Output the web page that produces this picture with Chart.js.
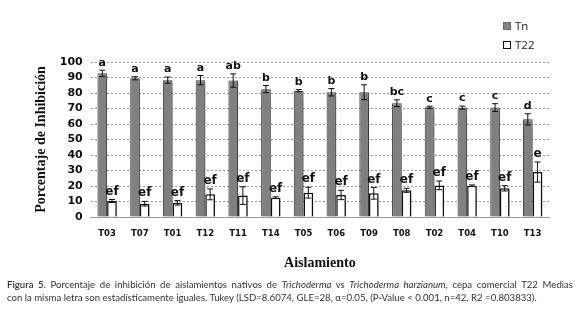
<!DOCTYPE html>
<html>
<head>
<meta charset="utf-8">
<script src="https://cdn.jsdelivr.net/npm/chart.js@4/dist/chart.umd.min.js"></script>
<style>
  body { margin: 0; background: #fff; }
  #wrap { position: relative; width: 579px; height: 319px; overflow: hidden; }
  #chart { position: absolute; left: 0; top: 0; }
  .legend { position: absolute; left: 503px; font-family: "Open Sans", sans-serif; font-size: 11.5px; line-height: 14px; color: #222; }
  .legend span.box { display: inline-block; width: 8px; height: 8px; margin-right: 4px; vertical-align: 0px; box-sizing: border-box; }
  #caption { position: absolute; left: 7px; top: 278px; width: 566px; font-family: Lato, sans-serif; font-size: 9.6px; line-height: 13px; color: #333; }
  #caption .l1 { text-align: justify; text-align-last: justify; white-space: nowrap; }
</style>
</head>
<body>
<div id="wrap">
  <canvas id="chart" width="579" height="319"></canvas>
  <div class="legend" style="top:19px"><span class="box" style="background:#808080;border:1px solid #6a6a6a"></span>Tn</div>
  <div class="legend" style="top:38px"><span class="box" style="background:#fff;border:1.5px solid #111"></span>T22</div>
  <div id="caption">
    <div class="l1"><b style="font-weight:600">Figura 5.</b> Porcentaje de inhibición de aislamientos nativos de <i>Trichoderma</i> vs <i>Trichoderma harzianum</i>, cepa comercial T22 Medias</div>
    <div>con la misma letra son estadísticamente iguales. Tukey (LSD=8.6074, GLE=28, α=0.05, (P-Value &lt; 0.001, n=42, R2 =0.803833).</div>
  </div>
</div>
<script>
const isolates = ['T03', 'T07', 'T01', 'T12', 'T11', 'T14', 'T05', 'T06', 'T09', 'T08', 'T02', 'T04', 'T10', 'T13'];

const tnValues = [92.7, 89.5, 88.3, 88.3, 88.0, 82.5, 81.5, 80.5, 80.5, 73.4, 70.8, 70.6, 70.6, 63.0];
const tnErrors = [2.0, 1.0, 2.0, 3.0, 4.3, 2.3, 0.7, 2.4, 4.8, 2.2, 0.7, 1.0, 2.5, 3.6];
const tnLetters = ['a', 'a', 'a', 'a', 'ab', 'b', 'b', 'b', 'b', 'bc', 'c', 'c', 'c', 'd'];

const t22Values = [10.3, 8.6, 9.2, 14.6, 13.8, 12.5, 15.7, 14.2, 15.3, 17.2, 20.4, 20.2, 18.5, 29.0];
const t22Errors = [1.0, 1.5, 1.5, 3.5, 5.7, 0.5, 3.5, 3.0, 3.8, 1.3, 2.8, 0.5, 1.7, 6.5];
const t22Letters = ['ef', 'ef', 'ef', 'ef', 'ef', 'ef', 'ef', 'ef', 'ef', 'ef', 'ef', 'ef', 'ef', 'e'];

const yTicks = [0, 10, 20, 30, 40, 50, 60, 70, 80, 90, 100];

// soft drop shadow under the bars
const barShadow = {
    id: 'barShadow',
    beforeDatasetDraw(chart) {
        const ctx = chart.ctx;
        ctx.save();
        ctx.shadowColor = 'rgba(0,0,0,0.45)';
        ctx.shadowBlur = 8;
        ctx.shadowOffsetX = 4;
        ctx.shadowOffsetY = 3;
    },
    afterDatasetDraw(chart) {
        chart.ctx.restore();
    }
};

// error bars + Tukey letters
const errorBars = {
    id: 'errorBars',
    afterDatasetsDraw(chart) {
        const ctx = chart.ctx;
        const y = chart.scales.y;
        ctx.save();
        chart.data.datasets.forEach((ds, di) => {
            const meta = chart.getDatasetMeta(di);
            meta.data.forEach((bar, i) => {
                const v = ds.data[i];
                const e = ds.errors[i];
                const top = y.getPixelForValue(v + e);
                const bot = y.getPixelForValue(v - e);
                const x = bar.x;
                ctx.strokeStyle = '#111';
                ctx.lineWidth = 1;
                ctx.beginPath();
                ctx.moveTo(x, top); ctx.lineTo(x, bot);
                ctx.moveTo(x - 3, top); ctx.lineTo(x + 3, top);
                ctx.moveTo(x - 3, bot); ctx.lineTo(x + 3, bot);
                ctx.stroke();
                ctx.fillStyle = '#111';
                ctx.font = di === 0 ? 'bold 11px "DejaVu Sans", sans-serif' : 'bold 12px "DejaVu Sans", sans-serif';
                ctx.textAlign = 'center';
                ctx.textBaseline = 'bottom';
                ctx.fillText(ds.letters[i], x, top - 2);
            });
        });
        ctx.restore();
    }
};

new Chart(document.getElementById('chart'), {
    type: 'bar',
    data: {
        labels: isolates,
        datasets: [
            {
                label: 'Tn',
                data: tnValues,
                errors: tnErrors,
                letters: tnLetters,
                backgroundColor: '#808080',
                borderColor: '#4a4a4a',
                borderWidth: 1
            },
            {
                label: 'T22',
                data: t22Values,
                errors: t22Errors,
                letters: t22Letters,
                backgroundColor: '#ffffff',
                borderColor: '#111111',
                borderWidth: 1.5
            }
        ]
    },
    options: {
        responsive: false,
        animation: false,
        layout: { padding: { top: 62, right: 30, left: 33, bottom: 47 } },
        datasets: { bar: { categoryPercentage: 0.59, barPercentage: 1.0 } },
        scales: {
            x: {
                grid: { display: false, drawTicks: false },
                border: { display: true, color: '#999' },
                ticks: {
                    color: '#111',
                    font: { family: '"DejaVu Sans", sans-serif', size: 8.5, weight: 'bold' },
                    padding: 12,
                    maxRotation: 0
                },
                title: {
                    display: true,
                    text: 'Aislamiento',
                    color: '#111',
                    font: { family: '"Liberation Serif", serif', size: 14, weight: 'bold' },
                    padding: { top: 4, bottom: 0 }
                }
            },
            y: {
                min: 0,
                max: 100,
                afterBuildTicks(axis) {
                    axis.ticks = yTicks.map(v => ({ value: v }));
                },
                grid: { color: '#999', drawTicks: false },
                border: { display: false, dash: [2, 2] },
                ticks: {
                    autoSkip: false,
                    color: '#111',
                    font: { family: '"DejaVu Sans", sans-serif', size: 11, weight: 'bold' },
                    padding: 8
                },
                title: {
                    display: true,
                    text: 'Porcentaje de Inhibición',
                    color: '#111',
                    font: { family: '"Liberation Serif", serif', size: 14, weight: 'bold' },
                    padding: { top: 0, bottom: 2 }
                }
            }
        },
        plugins: {
            legend: { display: false },
            tooltip: { enabled: false }
        }
    },
    plugins: [barShadow, errorBars]
});
</script>
</body>
</html>
